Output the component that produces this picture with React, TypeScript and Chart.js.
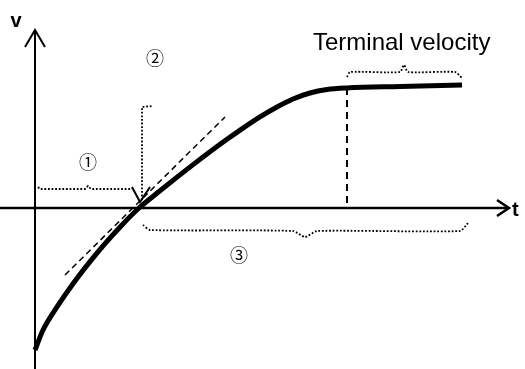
import React, { useEffect, useRef } from "react";
import { Chart, registerables } from "chart.js";

Chart.register(...registerables);

// Coordinate system: t along the horizontal axis, v along the vertical axis (v = 0 on the t axis)
const T_RANGE = [-3.5, 49];
const V_RANGE = [-16.1, 20.8];

// Thick velocity curve
const curveT = [0, 0.8, 2.2, 3.8, 5.5, 7.0, 8.7, 10.4, 12.5, 14.3, 16.0, 17.5, 19.2, 20.8, 22.5, 24.2, 25.8, 27.5, 29.2, 31.2, 36.5, 42.7];
const curveV = [-14.2, -12.2, -9.89, -7.57, -5.36, -3.56, -1.69, 0.0, 1.72, 3.16, 4.49, 5.63, 6.87, 7.99, 9.11, 10.1, 10.9, 11.5, 11.84, 12.0, 12.15, 12.3];

// Dashed tangent line
const tangentT = [3.0, 19.0];
const tangentV = [-6.7, 9.1];

// Dashed vertical line to terminal velocity
const termLineT = [31.2, 31.2];
const termLineV = [12.0, 0.2];

// Axes
const vAxisT = [0, 0];
const vAxisV = [-16.1, 17.8];
const vArrowT = [-1.0, 0, 1.0];
const vArrowV = [16.1, 17.8, 16.1];
const tAxisT = [-3.5, 47.4];
const tAxisV = [0, 0];
const tArrowT = [46.2, 47.4, 46.2];
const tArrowV = [0.8, 0, -0.8];

// Dotted braces / markers
const brace1T = [0.3, 0.5, 5.0, 5.3, 5.6, 9.7];
const brace1V = [2.1, 1.9, 1.9, 2.2, 1.9, 1.9];
const pointerT = [9.7, 10.5, 11.5];
const pointerV = [2.1, 0.6, 2.1];
const marker2T = [10.7, 10.7, 11.8];
const marker2V = [0.8, 10.1, 10.2];
const brace3T = [10.8, 11.5, 25.8, 27.0, 28.2, 42.5, 43.3];
const brace3V = [-1.7, -2.2, -2.3, -2.9, -2.3, -2.3, -1.5];
const braceTvT = [31.2, 31.5, 36.5, 36.9, 37.3, 42.0, 42.7];
const braceTvV = [13.1, 13.6, 13.6, 14.3, 13.6, 13.6, 13.0];

// Labels
const labelTexts = ["v", "t", "Terminal velocity", "①", "②", "③"];
const labelT = [-1.9, 47.7, 27.8, 5.3, 12.0, 20.4];
const labelV = [18.1, -0.8, 15.8, 4.6, 15.0, -4.7];

const zip = (xs: number[], ys: number[]) => xs.map((x, i) => ({ x, y: ys[i] }));

export default function App() {
  const ref = useRef<HTMLCanvasElement | null>(null);

  useEffect(() => {
    if (!ref.current) return;
    const dotted = [1.8, 1.8];
    const line = (xs: number[], ys: number[], extra: any) => ({
      data: zip(xs, ys),
      showLine: true,
      pointRadius: 0,
      borderColor: "#000",
      backgroundColor: "#000",
      fill: false,
      borderWidth: 2,
      ...extra,
    });

    const labelFonts = [
      "bold 20px 'Liberation Sans', Arial, sans-serif",
      "bold 20px 'Liberation Sans', Arial, sans-serif",
      "24px 'Liberation Sans', Arial, sans-serif",
      "18px 'Noto Sans CJK JP', sans-serif",
      "18px 'Noto Sans CJK JP', sans-serif",
      "18px 'Noto Sans CJK JP', sans-serif",
    ];
    const labelAligns: CanvasTextAlign[] = ["center", "left", "left", "center", "center", "center"];
    const labelBaselines: CanvasTextBaseline[] = ["alphabetic", "alphabetic", "alphabetic", "middle", "middle", "middle"];

    const textPlugin = {
      id: "labels",
      afterDatasetsDraw(chart: any) {
        const ctx = chart.ctx;
        const xs = chart.scales.x;
        const ys = chart.scales.y;
        ctx.save();
        ctx.fillStyle = "#000";
        labelTexts.forEach((txt, i) => {
          ctx.font = labelFonts[i];
          ctx.textAlign = labelAligns[i];
          ctx.textBaseline = labelBaselines[i];
          ctx.fillText(txt, xs.getPixelForValue(labelT[i]), ys.getPixelForValue(labelV[i]));
        });
        ctx.restore();
      },
    };

    const chart = new Chart(ref.current, {
      type: "scatter",
      data: {
        datasets: [
          line(vAxisT, vAxisV, { borderWidth: 2 }),
          line(vArrowT, vArrowV, { borderWidth: 2 }),
          line(tAxisT, tAxisV, { borderWidth: 2.5 }),
          line(tArrowT, tArrowV, { borderWidth: 2.5 }),
          line(tangentT, tangentV, { borderWidth: 1.5, borderDash: [6, 4] }),
          line(termLineT, termLineV, { borderWidth: 2, borderDash: [7, 5] }),
          line(brace1T, brace1V, { borderWidth: 1.8, borderDash: dotted }),
          line(marker2T, marker2V, { borderWidth: 1.8, borderDash: dotted }),
          line(brace3T, brace3V, { borderWidth: 1.8, borderDash: dotted, tension: 0.2 }),
          line(braceTvT, braceTvV, { borderWidth: 1.8, borderDash: dotted, tension: 0.2 }),
          line(pointerT, pointerV, { borderWidth: 2 }),
          line(curveT, curveV, { borderWidth: 5, cubicInterpolationMode: "monotone", borderCapStyle: "butt" }),
        ],
      },
      options: {
        animation: false,
        responsive: false,
        maintainAspectRatio: false,
        events: [],
        layout: { padding: 0 },
        plugins: { legend: { display: false }, tooltip: { enabled: false }, title: { display: false } },
        scales: {
          x: { type: "linear", min: T_RANGE[0], max: T_RANGE[1], display: false },
          y: { type: "linear", min: V_RANGE[0], max: V_RANGE[1], display: false },
        },
      },
      plugins: [textPlugin],
    });
    return () => chart.destroy();
  }, []);

  return (
    <div style={{ position: "fixed", left: 0, top: 0, width: 525, height: 369, background: "#fff" }}>
      <canvas ref={ref} width={525} height={369} />
    </div>
  );
}
